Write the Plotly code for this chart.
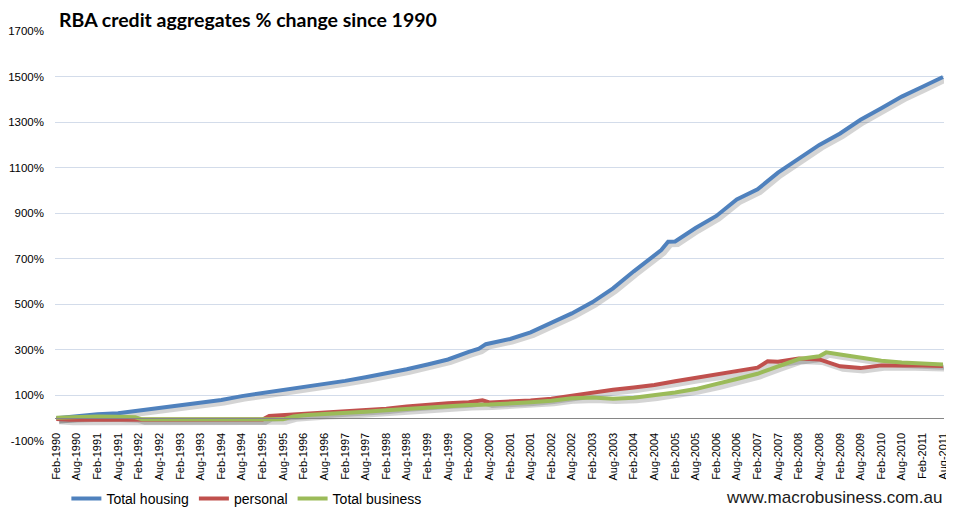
import plotly.graph_objects as go

# ---------------- data ----------------
housing_dates = ["1990-02", "1990-08", "1991-02", "1991-08", "1992-02", "1992-08", "1993-02", "1993-08",
                 "1994-02", "1994-08", "1995-02", "1995-08", "1996-02", "1996-08", "1997-02", "1997-08",
                 "1998-02", "1998-08", "1999-02", "1999-08", "2000-02", "2000-05", "2000-07", "2000-08",
                 "2001-02", "2001-08", "2002-02", "2002-08", "2003-02", "2003-08", "2004-02", "2004-08",
                 "2004-10", "2004-12", "2005-02", "2005-08", "2006-02", "2006-08", "2007-02", "2007-08",
                 "2008-02", "2008-08", "2009-02", "2009-08", "2010-02", "2010-08", "2011-02", "2011-08"]
housing_vals = [0, 10, 17, 22, 33, 45, 54, 66,
                80, 97, 110, 123, 137, 151, 164, 180,
                196, 215, 236, 258, 291, 305, 325, 328,
                348, 377, 420, 460, 510, 570, 645, 714,
                738, 775, 776, 835, 888, 960, 1005, 1078,
                1141, 1200, 1250, 1310, 1361, 1412, 1455, 1498]

personal_dates = ["1990-02", "1990-06", "1991-02", "1992-02", "1992-04", "1993-02", "1994-02", "1995-02",
                  "1995-04", "1995-08", "1996-02", "1996-08", "1997-02", "1997-08", "1998-02", "1998-08",
                  "1999-02", "1999-08", "2000-02", "2000-06", "2000-08", "2001-02", "2001-08", "2002-02",
                  "2002-08", "2003-02", "2003-08", "2004-02", "2004-08", "2005-02", "2005-08", "2006-02",
                  "2006-08", "2007-02", "2007-05", "2007-08", "2008-02", "2008-08", "2009-02", "2009-08",
                  "2010-02", "2010-08", "2011-02", "2011-08"]
personal_vals = [-3, -7, -7, -7, -6, -6, -6, -6,
                 10, 14, 17, 23, 28, 34, 42, 52,
                 60, 66, 70, 79, 69, 72, 78, 86,
                 100, 113, 125, 135, 146, 162, 177, 188,
                 203, 222, 250, 248, 262, 258, 228, 220,
                 232, 233, 232, 229]

business_dates = ["1990-02", "1990-08", "1991-02", "1991-08", "1992-01", "1992-03", "1993-02", "1994-02",
                  "1995-02", "1995-08", "1995-11", "1996-02", "1996-08", "1997-02", "1997-08", "1998-02",
                  "1998-08", "1999-02", "1999-08", "2000-02", "2000-08", "2001-02", "2001-08", "2002-02",
                  "2002-08", "2003-02", "2003-08", "2004-02", "2004-08", "2005-02", "2005-08", "2006-02",
                  "2006-08", "2007-02", "2007-08", "2008-02", "2008-08", "2008-10", "2009-02", "2009-08",
                  "2010-02", "2010-08", "2011-02", "2011-08"]
business_vals = [2, 7, 8, 7, 4, -5, -6, -6,
                 -6, -5, 8, 13, 18, 22, 28, 35,
                 41, 48, 53, 58, 60, 64, 70, 77,
                 88, 91, 86, 90, 100, 113, 128, 148,
                 172, 195, 228, 260, 272, 289, 280, 265,
                 252, 245, 240, 236]

series_names = ["Total housing", "personal", "Total business"]
series_colors = ["#4F81BD", "#C0504D", "#9BBB59"]

y_tick_vals = [-100, 100, 300, 500, 700, 900, 1100, 1300, 1500, 1700]
y_tick_text = ["-100%", "100%", "300%", "500%", "700%", "900%", "1100%", "1300%", "1500%", "1700%"]

x_range = ["1990-01-20", "2011-08-10"]
y_range = [-100, 1700]
shadow_x_range = ["1989-12-26", "2011-07-16"]   # shifted view -> shadow drawn a few px right
shadow_y_range = [-87, 1713]                    # shifted view -> shadow drawn a few px lower

# ---------------- figure ----------------
fig = go.Figure()

series = [(housing_dates, housing_vals), (personal_dates, personal_vals), (business_dates, business_vals)]

# empty trace so the visible base axes (x, y) form a subplot
fig.add_trace(go.Scatter(x=[], y=[], mode="lines", xaxis="x", yaxis="y",
                         showlegend=False, hoverinfo="skip"))

# drop shadows
for (d, v) in series:
    fig.add_trace(go.Scatter(x=d, y=v, mode="lines", xaxis="x2", yaxis="y2",
                             line=dict(color="rgba(60,60,60,0.22)", width=5),
                             showlegend=False, hoverinfo="skip"))

# main lines
for (d, v), name, col in zip(series, series_names, series_colors):
    fig.add_trace(go.Scatter(x=d, y=v, mode="lines", name=name, xaxis="x3", yaxis="y3",
                             line=dict(color=col, width=4)))

font_family = "Liberation Sans, Arial, sans-serif"

# the page body adds an 8px offset, so the figure is 8px smaller on each axis
fig.update_layout(
    width=946, height=504,
    margin=dict(l=47, r=10, t=23, b=71, autoexpand=False),
    paper_bgcolor="white", plot_bgcolor="white",
    font=dict(family=font_family, color="#000000"),
    showlegend=True,
    legend=dict(orientation="h", x=0.0128, xanchor="left", y=-0.141, yanchor="middle",
                font=dict(size=14, family=font_family, color="#000000"),
                bgcolor="rgba(0,0,0,0)", itemwidth=30, tracegroupgap=0),
    xaxis=dict(type="date", range=x_range, anchor="free", position=100 / 1800,
               tick0="1990-02-01", dtick="M6", tickformat="%b-%Y", tickangle=-90,
               tickfont=dict(size=11, family=font_family, color="#000000"),
               showline=True, linecolor="#868686", linewidth=1.3,
               showgrid=False, ticks="", ticklabelstandoff=9, zeroline=False),
    yaxis=dict(range=y_range, tickmode="array", tickvals=y_tick_vals, ticktext=y_tick_text,
               tickfont=dict(size=11.5, family=font_family, color="#000000"),
               showgrid=True, gridcolor="#D3DCEA", gridwidth=1,
               zeroline=False, showline=False, ticks="", ticklabelstandoff=10),
    xaxis2=dict(type="date", range=shadow_x_range, overlaying="x", anchor="y2", visible=False),
    yaxis2=dict(range=shadow_y_range, overlaying="y", anchor="x2", visible=False),
    xaxis3=dict(type="date", range=x_range, overlaying="x", anchor="y3", visible=False),
    yaxis3=dict(range=y_range, overlaying="y", anchor="x3", visible=False),
)

fig.add_annotation(text="<b>RBA credit aggregates % change since 1990</b>",
                   xref="paper", yref="paper", x=(57 - 55) / 889, y=1 + 11.5 / 410,
                   xanchor="left", yanchor="middle", showarrow=False,
                   font=dict(size=19.5, family="Lato, " + font_family, color="#000000"))

fig.add_annotation(text="www.macrobusiness.com.au",
                   xref="paper", yref="paper", x=1.0, y=-(497 - 441) / 410,
                   xanchor="right", yanchor="middle", showarrow=False,
                   font=dict(size=17, family=font_family, color="#1A1A1A"))

fig.write_html("out.html")
